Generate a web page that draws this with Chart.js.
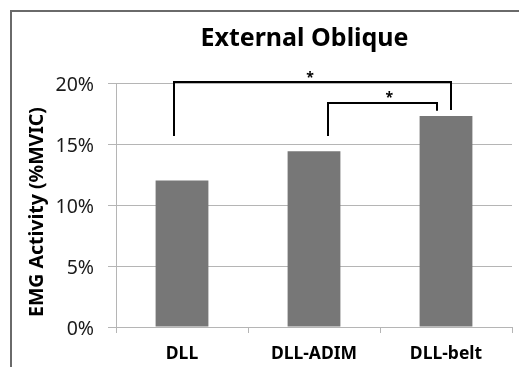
<!DOCTYPE html>
<html>
<head>
<meta charset="utf-8">
<script src="https://cdn.jsdelivr.net/npm/chart.js@4/dist/chart.umd.min.js"></script>
<style>
  html, body { margin: 0; padding: 0; background: #ffffff; }
  #wrap { width: 519px; height: 367px; position: relative; }
</style>
</head>
<body>
<div id="wrap"><canvas id="chart" width="519" height="367"></canvas></div>
<script>
// Conditions and mean EMG activity (% of MVIC)
const categories = ['DLL', 'DLL-ADIM', 'DLL-belt'];
const emgActivity = [12.0, 14.4, 17.3];
const yTicks = [0, 5, 10, 15, 20];
const chartTitle = 'External Oblique';
const yAxisTitle = 'EMG Activity (%MVIC)';

// Significance brackets between conditions (category index)
const bracketPairs = [
  { from: 0, to: 2, label: '*' },
  { from: 1, to: 2, label: '*' }
];

const FONT = '"Noto Sans", "DejaVu Sans", sans-serif';

// Bracket geometry: leg offsets inside each category and heights on the y scale
const bracketLayout = [
  { fromOff: -0.06, toOff: 0.04, top: 20.08, fromEnd: 15.66, toEnd: 17.79, starX: 0.97, starY: 20.55 },
  { fromOff: 0.105, toOff: -0.07, top: 18.34, fromEnd: 15.66, toEnd: 17.73, starX: 1.57, starY: 18.9 }
];

// White background, outer frame, chart title and rotated y-axis title
const framePlugin = {
  id: 'frame',
  beforeDraw(chart) {
    const ctx = chart.ctx;
    ctx.save();
    ctx.fillStyle = '#ffffff';
    ctx.fillRect(0, 0, chart.width, chart.height);
    ctx.strokeStyle = '#6a6a6a';
    ctx.lineWidth = 2;
    ctx.beginPath();
    ctx.moveTo(11, chart.height);
    ctx.lineTo(11, 11);
    ctx.lineTo(chart.width, 11);
    ctx.stroke();
    ctx.restore();
  },
  afterDraw(chart) {
    const ctx = chart.ctx;
    ctx.save();
    ctx.fillStyle = '#000000';
    ctx.textBaseline = 'alphabetic';
    ctx.textAlign = 'center';
    ctx.font = 'bold 25px ' + FONT;
    ctx.fillText(chartTitle, 304.5, 46);
    ctx.translate(43, 212);
    ctx.rotate(-Math.PI / 2);
    ctx.font = 'bold 19.5px ' + FONT;
    ctx.fillText(yAxisTitle, 0, 0);
    ctx.restore();
  }
};

const bracketPlugin = {
  id: 'brackets',
  afterDatasetsDraw(chart) {
    const ctx = chart.ctx;
    const x = chart.scales.x, y = chart.scales.y;
    ctx.save();
    ctx.strokeStyle = '#000000';
    ctx.lineWidth = 2;
    ctx.lineCap = 'butt';
    bracketPairs.forEach((b, i) => {
      const l = bracketLayout[i];
      const x1 = Math.round(x.getPixelForValue(b.from + l.fromOff));
      const x2 = Math.round(x.getPixelForValue(b.to + l.toOff));
      const yt = Math.round(y.getPixelForValue(l.top));
      ctx.beginPath();
      ctx.moveTo(x1, y.getPixelForValue(l.fromEnd));
      ctx.lineTo(x1, yt);
      ctx.lineTo(x2, yt);
      ctx.lineTo(x2, y.getPixelForValue(l.toEnd));
      ctx.stroke();
      ctx.fillStyle = '#000000';
      ctx.font = 'bold 14px ' + FONT;
      ctx.textAlign = 'center';
      ctx.textBaseline = 'middle';
      ctx.fillText(b.label, x.getPixelForValue(l.starX), y.getPixelForValue(l.starY) + 2);
    });
    ctx.restore();
  }
};

new Chart(document.getElementById('chart'), {
  type: 'bar',
  data: {
    labels: categories,
    datasets: [{
      data: emgActivity,
      backgroundColor: '#777777',
      borderWidth: 0,
      categoryPercentage: 1.0,
      barPercentage: 0.4
    }]
  },
  options: {
    responsive: false,
    animation: false,
    devicePixelRatio: 1,
    layout: { padding: { left: 0, right: 7, top: 83, bottom: 0 } },
    plugins: {
      legend: { display: false },
      tooltip: { enabled: false },
      title: { display: false }
    },
    scales: {
      x: {
        afterFit(scale) { scale.height = 40; },
        grid: {
          display: true,
          drawOnChartArea: false,
          drawTicks: true,
          tickLength: 6,
          color: '#b5b5b5',
          offset: true
        },
        border: { display: true, color: '#b5b5b5' },
        ticks: {
          color: '#000000',
          padding: 11,
          font: { family: FONT, size: 17.5, weight: 'bold' }
        }
      },
      y: {
        min: 0,
        max: 20,
        afterFit(scale) { scale.width = 116; },
        afterBuildTicks(scale) { scale.ticks = yTicks.map(v => ({ value: v })); },
        grid: {
          color: '#b5b5b5',
          tickLength: 8,
          drawTicks: true
        },
        border: { display: true, color: '#b5b5b5' },
        ticks: {
          color: '#1a1a1a',
          padding: 14,
          labelOffset: 2,
          font: { family: FONT, size: 19.5 },
          callback: v => v + '%'
        }
      }
    }
  },
  plugins: [framePlugin, bracketPlugin]
});
</script>
</body>
</html>
